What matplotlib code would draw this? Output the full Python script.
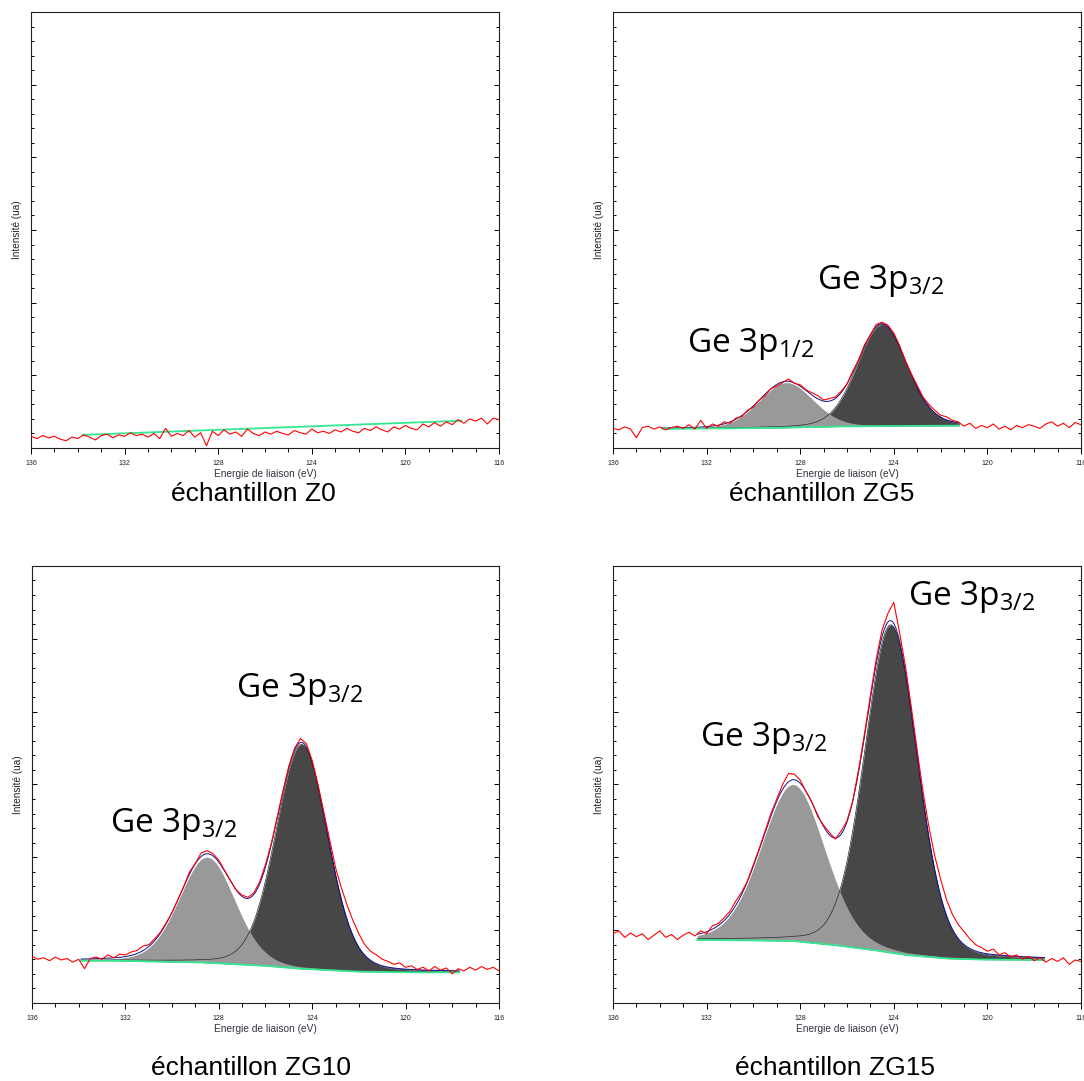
import matplotlib
matplotlib.use("Agg")
import matplotlib.pyplot as plt
import numpy as np
from matplotlib.ticker import MultipleLocator

plt.rcParams["font.family"] = ["Liberation Sans", "DejaVu Sans"]
plt.rcParams["mathtext.fontset"] = "custom"
plt.rcParams["mathtext.rm"] = "Open Sans"
plt.rcParams["mathtext.default"] = "regular"

# energie de liaison (eV), pas de 0.25 eV, de 136 a 116
energy = np.linspace(136, 116, 81)

z0_counts = [.16, .13, .17, .14, .16, .12, .10, .15, .13, .18, .15, .11, .17, .19, .14, .18, .16,
             .21, .17, .19, .15, .20, .13, .27, .16, .20, .17, .24, .15, .21, .03, .23, .17, .25,
             .19, .22, .16, .26, .20, .17, .22, .19, .23, .20, .18, .24, .21, .19, .26, .21, .23,
             .20, .25, .22, .27, .23, .21, .27, .24, .29, .25, .22, .29, .26, .31, .27, .25, .33,
             .29, .35, .30, .36, .32, .39, .34, .40, .37, .41, .33, .41, .39]
zg5_counts = [.27, .25, .29, .26, .14, .28, .30, .26, .29, .25, .28, .30, .27, .32, .26, .38, .27,
              .33, .30, .36, .34, .41, .43, .52, .56, .66, .72, .82, .85, .90, .95, .89, .87, .80,
              .76, .72, .66, .68, .70, .78, .88, 1.06, 1.21, 1.42, 1.55, 1.70, 1.73, 1.69, 1.58,
              1.41, 1.19, 1.02, .86, .70, .60, .52, .45, .43, .38, .36, .30, .34, .27, .31, .28,
              .33, .26, .30, .25, .31, .28, .32, .30, .27, .33, .36, .30, .34, .28, .35, .32]
zg10_counts = [.64, .60, .62, .58, .63, .59, .61, .56, .60, .47, .61, .63, .60, .66, .62, .67, .66,
               .70, .72, .78, .80, .88, .97, 1.10, 1.24, 1.42, 1.60, 1.80, 1.92, 2.06, 2.09, 2.05,
               1.96, 1.82, 1.68, 1.55, 1.48, 1.45, 1.51, 1.66, 1.90, 2.19, 2.55, 2.91, 3.25, 3.50,
               3.63, 3.56, 3.33, 3.00, 2.62, 2.24, 1.86, 1.58, 1.34, 1.13, .95, .80, .71, .66, .60,
               .57, .53, .55, .49, .51, .46, .49, .44, .50, .45, .48, .40, .47, .44, .49, .45, .50,
               .46, .49, .44]
zg15_counts = [.95, .99, .90, .96, .91, .95, .87, .93, .99, .90, .94, .87, .93, .97, .92, .99, .95,
               1.06, 1.09, 1.17, 1.26, 1.40, 1.52, 1.68, 1.90, 2.12, 2.36, 2.60, 2.80, 3.00, 3.15,
               3.14, 3.06, 2.90, 2.76, 2.56, 2.44, 2.34, 2.25, 2.36, 2.50, 2.78, 3.21, 3.70, 4.22,
               4.72, 5.12, 5.35, 5.50, 5.08, 4.62, 4.06, 3.47, 2.90, 2.42, 2.02, 1.70, 1.42, 1.22,
               1.08, .98, .88, .80, .76, .71, .74, .66, .69, .63, .66, .60, .64, .58, .62, .56, .61,
               .57, .62, .53, .59, .57]

# fond (ligne verte)
z0_bg_e = [133.8, 117.6]
z0_bg_i = [0.18, 0.375]
zg5_bg_e = [133.9, 131.0, 128.5, 126.5, 125.0, 121.2]
zg5_bg_i = [0.265, 0.27, 0.28, 0.295, 0.30, 0.307]
zg10_bg_e = [133.9, 132.5, 128.7, 126.0, 124.5, 122.0, 119.7, 117.7]
zg10_bg_i = [0.58, 0.58, 0.555, 0.51, 0.47, 0.43, 0.42, 0.42]
zg15_bg_e = [132.4, 129.7, 128.3, 126.56, 124.84, 123.41, 121.7, 120.27, 117.56]
zg15_bg_i = [0.865, 0.857, 0.85, 0.795, 0.725, 0.656, 0.61, 0.596, 0.59]

# composantes (3p1/2 puis 3p3/2) : position, hauteur, largeur a mi-hauteur
zg5_centres = [128.6, 124.5]
zg5_heights = [0.62, 1.40]
zg5_fwhm = [2.7, 2.5]
zg10_centres = [128.5, 124.45]
zg10_heights = [1.45, 3.08]
zg10_fwhm = [2.8, 2.6]
zg15_centres = [128.3, 124.12]
zg15_heights = [2.15, 4.5]
zg15_fwhm = [3.2, 2.65]

# etiquettes des pics : texte, energie, intensite (ligne de base du texte)
zg5_labels = [("Ge 3p$_{1/2}$", 132.85, 1.32), ("Ge 3p$_{3/2}$", 127.28, 2.19)]
zg10_labels = [("Ge 3p$_{3/2}$", 132.64, 2.35), ("Ge 3p$_{3/2}$", 127.26, 4.20)]
zg15_labels = [("Ge 3p$_{3/2}$", 132.3, 3.53), ("Ge 3p$_{3/2}$", 123.41, 5.46)]


def pseudo_voigt(e, c, h, w, eta=0.15):
    r2 = (2 * (e - c) / w) ** 2
    return h * ((1 - eta) * 2 ** (-r2) + eta / (1 + r2))


def draw_panel(ax, counts, bg_e, bg_i, centres=None, heights=None, widths=None, labels=()):
    if centres:
        e = np.linspace(bg_e[0], bg_e[-1], 500)
        bg = np.interp(e, bg_e[::-1], bg_i[::-1])
        light = pseudo_voigt(e, centres[0], heights[0], widths[0])
        dark = pseudo_voigt(e, centres[1], heights[1], widths[1])
        ax.fill_between(e, bg, bg + dark, color="#474747", lw=0, zorder=1)
        ax.fill_between(e, bg, bg + light, color="#999999", lw=0, zorder=2)
        ax.plot(e, bg + dark, color="#2a2a2a", lw=0.5, zorder=3)
        ax.plot(e, bg + light + dark, color="#101090", lw=0.7, zorder=4)
    ax.plot(bg_e, bg_i, color="#33e88f", lw=1.3, zorder=4)
    ax.plot(energy, counts, color="#ff0000", lw=0.8, zorder=5)
    for txt, x, y in labels:
        ax.text(x, y, txt, fontsize=24, family="Open Sans", ha="left", va="baseline", zorder=6)

    ax.set_xlim(136, 116)
    ax.set_ylim(0, 6)
    ax.xaxis.set_major_locator(MultipleLocator(4))
    ax.xaxis.set_minor_locator(MultipleLocator(1))
    ax.yaxis.set_major_locator(MultipleLocator(1))
    ax.yaxis.set_minor_locator(MultipleLocator(0.2))
    ax.tick_params(axis="x", which="both", direction="out", top=False, width=0.7,
                   labelsize=5, labelcolor="#20202e", pad=4.3)
    ax.tick_params(axis="x", which="major", length=4.3)
    ax.tick_params(axis="x", which="minor", length=3.2)
    ax.tick_params(axis="y", which="both", direction="in", left=True, right=True,
                   labelleft=False, width=0.7)
    ax.tick_params(axis="y", which="major", length=3.4)
    ax.tick_params(axis="y", which="minor", length=2)
    for sp in ax.spines.values():
        sp.set_color("#202020")
        sp.set_linewidth(0.8)
    ax.set_xlabel("Energie de liaison (eV)", fontsize=7.3, color="#33333f")
    ax.xaxis.set_label_coords(0.5, -0.048)
    ax.set_ylabel("Intensité (ua)", fontsize=7.2, color="#222222")
    ax.yaxis.set_label_coords(-0.020, 0.5)


fig = plt.figure(figsize=(10.84, 10.81), dpi=100)
ax1 = fig.add_axes([0.0286, 0.5856, 0.4317, 0.4033])
ax2 = fig.add_axes([0.5655, 0.5856, 0.4317, 0.4033])
ax3 = fig.add_axes([0.0295, 0.0722, 0.4308, 0.4043])
ax4 = fig.add_axes([0.5655, 0.0722, 0.4317, 0.4043])

draw_panel(ax1, z0_counts, z0_bg_e, z0_bg_i)
draw_panel(ax2, zg5_counts, zg5_bg_e, zg5_bg_i, zg5_centres, zg5_heights, zg5_fwhm, zg5_labels)
draw_panel(ax3, zg10_counts, zg10_bg_e, zg10_bg_i, zg10_centres, zg10_heights, zg10_fwhm, zg10_labels)
draw_panel(ax4, zg15_counts, zg15_bg_e, zg15_bg_i, zg15_centres, zg15_heights, zg15_fwhm, zg15_labels)

captions = ["échantillon Z0", "échantillon ZG5", "échantillon ZG10", "échantillon ZG15"]
cap_pos = [(0.234, 0.5430), (0.758, 0.5430), (0.232, 0.0120), (0.770, 0.0120)]
for txt, (x, y) in zip(captions, cap_pos):
    fig.text(x, y, txt, fontsize=19, ha="center", va="center")

fig.savefig("out.png", dpi=100)
